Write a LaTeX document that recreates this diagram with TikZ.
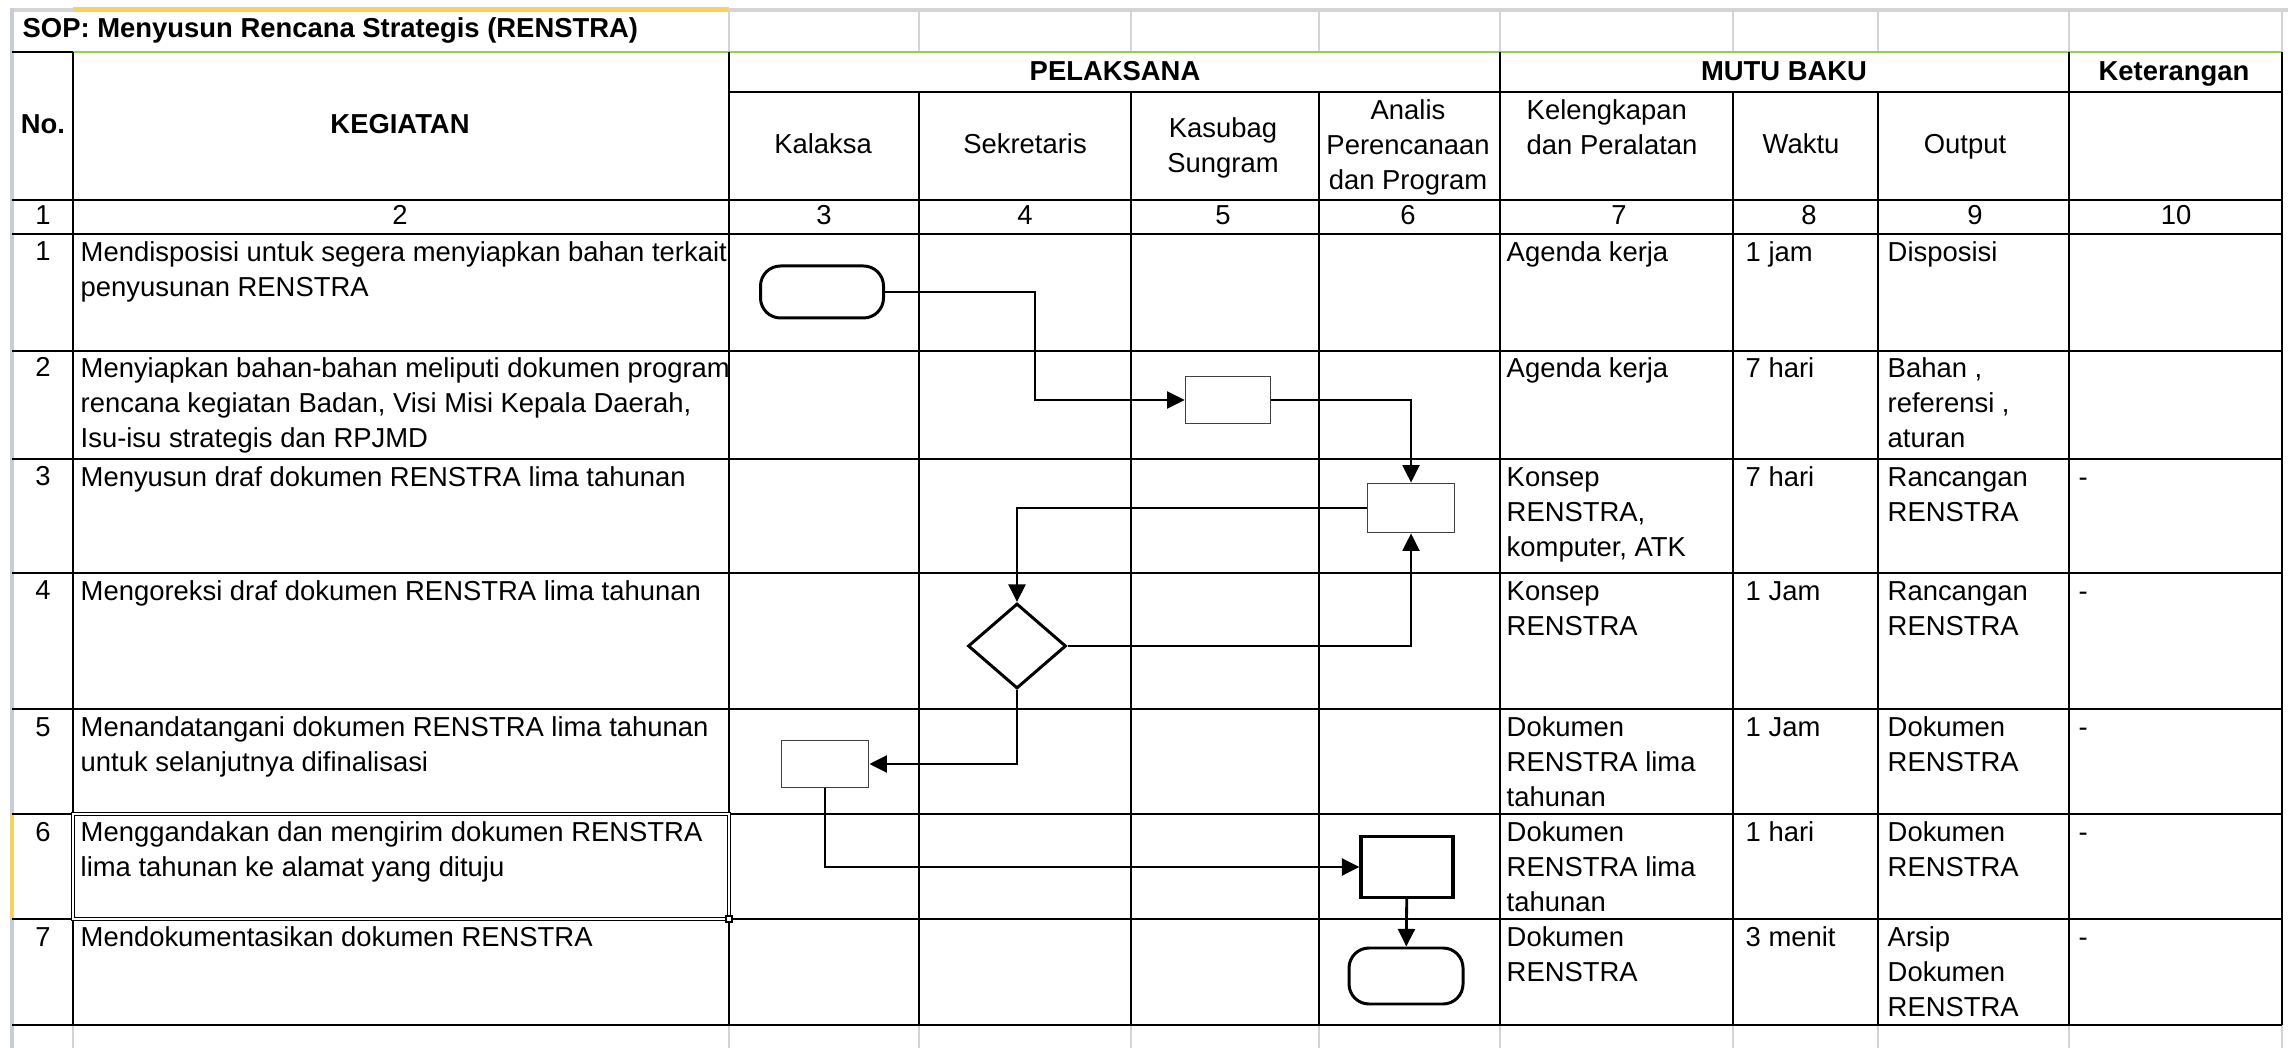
\documentclass[tikz,border=0pt]{standalone}
\usepackage{fontspec}
\setmainfont{Liberation Sans}
\usetikzlibrary{arrows.meta}
\usetikzlibrary{shapes.geometric}
\definecolor{gridabu}{RGB}{212,212,212}
\definecolor{tepiabu}{RGB}{200,205,213}
\definecolor{pilihkuning}{RGB}{247,208,96}
\definecolor{hijauexcel}{RGB}{146,208,80}

\begin{document}
\fontsize{7.8}{10}\selectfont
\begin{tikzpicture}[x=0.1mm, y=-0.1mm,
    garis/.style={line width=0.55pt},
    isi/.style={anchor=north west, align=left, inner sep=0pt},
    tumpuk/.style={anchor=north, align=center, inner sep=0pt},
    pusat/.style={anchor=base, inner sep=0pt},
    judul/.style={anchor=base, inner sep=0pt, font=\bfseries},
    terminal/.style={draw, rectangle, rounded corners=2mm, line width=0.85pt, inner sep=0pt},
    proses/.style={draw=black!75, rectangle, line width=0.5pt, inner sep=0pt},
    putusan/.style={draw, diamond, line width=0.85pt, inner sep=0pt},
    alur/.style={line width=0.8pt, -{Triangle[length=5pt, width=4.8pt]}}]
      \useasboundingbox (0,0) rectangle (2288,1048);
      \fill[white] (0,0) rectangle (2288,1048);

      % lembar kerja
      \draw[gridabu, line width=0.9pt] (12,10) -- (2288,10);
      \draw[tepiabu, line width=1.1pt] (12,8) -- (12,1048);
      \fill[pilihkuning] (73,7) rectangle (729,12);
      \fill[pilihkuning] (10,814) rectangle (14,918);
      \draw[gridabu, line width=0.4pt] (729,10) -- (729,52) (919,10) -- (919,52) (1131,10) -- (1131,52)
        (1319,10) -- (1319,52) (1500,10) -- (1500,52) (1733,10) -- (1733,52) (1878,10) -- (1878,52)
        (2069,10) -- (2069,52) (2282,10) -- (2282,52);
      \draw[gridabu, line width=0.4pt] (73,1025) -- (73,1048) (729,1025) -- (729,1048) (919,1025) -- (919,1048)
        (1131,1025) -- (1131,1048) (1319,1025) -- (1319,1048) (1500,1025) -- (1500,1048)
        (1733,1025) -- (1733,1048) (1878,1025) -- (1878,1048) (2069,1025) -- (2069,1048) (2282,1025) -- (2282,1048);

      % tabel
      \draw[hijauexcel, line width=0.6pt] (73,52) -- (2282,52);
      \draw[garis] (12,52) -- (73,52);
      \draw[garis] (729,92) -- (2282,92);
      \draw[garis] (12,200) -- (2282,200) (12,234) -- (2282,234) (12,351) -- (2282,351) (12,459) -- (2282,459)
        (12,573) -- (2282,573) (12,709) -- (2282,709) (12,814) -- (2282,814) (12,919) -- (2282,919)
        (12,1025) -- (2282,1025);
      \draw[garis] (73,52) -- (73,1025) (729,52) -- (729,1025) (919,92) -- (919,1025) (1131,92) -- (1131,1025)
        (1319,92) -- (1319,1025) (1500,52) -- (1500,1025) (1733,92) -- (1733,1025) (1878,92) -- (1878,1025)
        (2069,52) -- (2069,1025) (2282,52) -- (2282,1025);
      \draw[line width=0.3pt, double, double distance=0.8pt] (73,814) rectangle (729,919);
      \draw[fill=white, line width=0.3pt] (726,916) rectangle (732,922);

      \node[anchor=base west, inner sep=0pt, font=\bfseries] (sop) at (22,38) {SOP: Menyusun Rencana Strategis (RENSTRA)};

      \node[judul] (hno) at (43,134) {No.};
      \node[judul] (hkegiatan) at (400,134) {KEGIATAN};
      \node[judul] (hpelaksana) at (1115,81) {PELAKSANA};
      \node[judul] (hmutu) at (1784,81) {MUTU BAKU};
      \node[judul] (hket) at (2174,81) {Keterangan};
      \node[pusat] (kalaksa) at (823,154) {Kalaksa};
      \node[pusat] (sekretaris) at (1025,154) {Sekretaris};
      \node[tumpuk] (kasubag) at (1223,112) {\strut Kasubag\\Sungram};
      \node[tumpuk] (analis) at (1408,94) {\strut Analis\\Perencanaan\\dan Program};
      \node[isi] (kelengkapan) at (1526,94) {\strut Kelengkapan\\dan Peralatan};
      \node[pusat] (waktu) at (1801,154) {Waktu};
      \node[pusat] (output) at (1965,154) {Output};

      \node[pusat] (h1) at (43,225) {1};
      \node[pusat] (h2) at (400,225) {2};
      \node[pusat] (h3) at (824,225) {3};
      \node[pusat] (h4) at (1025,225) {4};
      \node[pusat] (h5) at (1223,225) {5};
      \node[pusat] (h6) at (1408,225) {6};
      \node[pusat] (h7) at (1619,225) {7};
      \node[pusat] (h8) at (1809,225) {8};
      \node[pusat] (h9) at (1975,225) {9};
      \node[pusat] (h10) at (2176,225) {10};

      \node[pusat] (n1) at (43,261) {1};
      \node[isi] (k1) at (80,236) {\strut Mendisposisi untuk segera menyiapkan bahan terkait\\penyusunan RENSTRA};
      \node[isi] (a1) at (1506,236) {\strut Agenda kerja};
      \node[isi] (w1) at (1745,236) {\strut 1 jam};
      \node[isi] (o1) at (1887,236) {\strut Disposisi};

      \node[pusat] (n2) at (43,377) {2};
      \node[isi] (k2) at (80,352) {\strut Menyiapkan bahan-bahan meliputi dokumen program\\rencana kegiatan Badan, Visi Misi Kepala Daerah,\\Isu-isu strategis dan RPJMD};
      \node[isi] (a2) at (1506,352) {\strut Agenda kerja};
      \node[isi] (w2) at (1745,352) {\strut 7 hari};
      \node[isi] (o2) at (1887,352) {\strut Bahan ,\\referensi ,\\aturan};

      \node[pusat] (n3) at (43,486) {3};
      \node[isi] (k3) at (80,461) {\strut Menyusun draf dokumen RENSTRA lima tahunan};
      \node[isi] (a3) at (1506,461) {\strut Konsep\\RENSTRA,\\komputer, ATK};
      \node[isi] (w3) at (1745,461) {\strut 7 hari};
      \node[isi] (o3) at (1887,461) {\strut Rancangan\\RENSTRA};
      \node[isi] (t3) at (2078,461) {\strut -};

      \node[pusat] (n4) at (43,600) {4};
      \node[isi] (k4) at (80,575) {\strut Mengoreksi draf dokumen RENSTRA lima tahunan};
      \node[isi] (a4) at (1506,575) {\strut Konsep\\RENSTRA};
      \node[isi] (w4) at (1745,575) {\strut 1 Jam};
      \node[isi] (o4) at (1887,575) {\strut Rancangan\\RENSTRA};
      \node[isi] (t4) at (2078,575) {\strut -};

      \node[pusat] (n5) at (43,736) {5};
      \node[isi] (k5) at (80,711) {\strut Menandatangani dokumen RENSTRA lima tahunan\\untuk selanjutnya difinalisasi};
      \node[isi] (a5) at (1506,711) {\strut Dokumen\\RENSTRA lima\\tahunan};
      \node[isi] (w5) at (1745,711) {\strut 1 Jam};
      \node[isi] (o5) at (1887,711) {\strut Dokumen\\RENSTRA};
      \node[isi] (t5) at (2078,711) {\strut -};

      \node[pusat] (n6) at (43,841) {6};
      \node[isi] (k6) at (80,816) {\strut Menggandakan dan mengirim dokumen RENSTRA\\lima tahunan ke alamat yang dituju};
      \node[isi] (a6) at (1506,816) {\strut Dokumen\\RENSTRA lima\\tahunan};
      \node[isi] (w6) at (1745,816) {\strut 1 hari};
      \node[isi] (o6) at (1887,816) {\strut Dokumen\\RENSTRA};
      \node[isi] (t6) at (2078,816) {\strut -};

      \node[pusat] (n7) at (43,946) {7};
      \node[isi] (k7) at (80,921) {\strut Mendokumentasikan dokumen RENSTRA};
      \node[isi] (a7) at (1506,921) {\strut Dokumen\\RENSTRA};
      \node[isi] (w7) at (1745,921) {\strut 3 menit};
      \node[isi] (o7) at (1887,921) {\strut Arsip\\Dokumen\\RENSTRA};
      \node[isi] (t7) at (2078,921) {\strut -};

      % bagan alir
      \node[terminal, minimum width=12.3mm, minimum height=5.2mm] (mulai) at (822,292) {};
      \node[proses, minimum width=8.5mm, minimum height=4.7mm] (siapkan) at (1228,400) {};
      \node[proses, minimum width=8.7mm, minimum height=4.9mm] (susun) at (1411,508) {};
      \node[putusan, minimum width=9.8mm, minimum height=8.5mm] (koreksi) at (1017,646) {};
      \node[proses, minimum width=8.7mm, minimum height=4.7mm] (tandatangan) at (825,764) {};
      \node[proses, draw=black, line width=0.9pt, minimum width=9.2mm, minimum height=6.1mm] (kirim) at (1407,867) {};
      \node[terminal, minimum width=11.4mm, minimum height=5.6mm] (selesai) at (1406,976) {};

      \draw[alur] (mulai.east) -- ++(150,0) |- (siapkan.west);
      \draw[alur] (siapkan.east) -| (susun.north);
      \draw[alur] (susun.west) -| (koreksi.north);
      \draw[alur] (koreksi.east) -| (susun.south);
      \draw[alur] (koreksi.south) |- (tandatangan.east);
      \draw[alur] (tandatangan.south) |- (kirim.west);
      \draw[alur] (kirim) -- (selesai);
\end{tikzpicture}
\end{document}
